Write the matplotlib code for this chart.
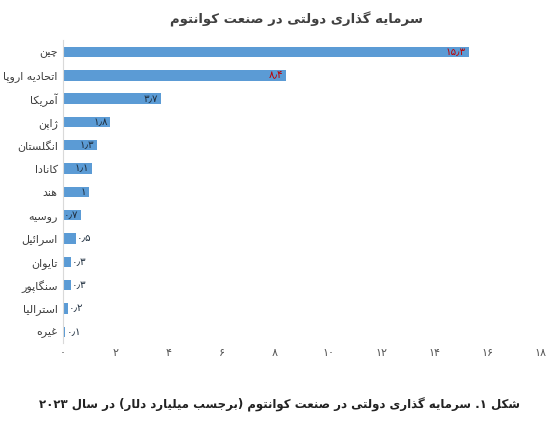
import matplotlib
matplotlib.use("Agg")
import matplotlib.pyplot as plt

categories = ["چین", "اتحادیه اروپا", "آمریکا", "ژاپن", "انگلستان", "کانادا", "هند",
              "روسیه", "اسرائیل", "تایوان", "سنگاپور", "استرالیا", "غیره"]
values = [15.3, 8.4, 3.7, 1.8, 1.3, 1.1, 1.0, 0.7, 0.5, 0.3, 0.3, 0.2, 0.1]
ticks = [0, 2, 4, 6, 8, 10, 12, 14, 16, 18]
title = "سرمایه گذاری دولتی در صنعت کوانتوم"
caption = "شکل ۱. سرمایه گذاری دولتی در صنعت کوانتوم (برجسب میلیارد دلار) در سال ۲۰۲۳"

# presentation forms: isolated, final, initial, medial (None => non-joining to next)
F = {
 'ا': (0xFE8D, 0xFE8E, None, None), 'آ': (0xFE81, 0xFE82, None, None),
 'ب': (0xFE8F, 0xFE90, 0xFE91, 0xFE92), 'پ': (0xFB56, 0xFB57, 0xFB58, 0xFB59),
 'ت': (0xFE95, 0xFE96, 0xFE97, 0xFE98), 'ج': (0xFE9D, 0xFE9E, 0xFE9F, 0xFEA0),
 'چ': (0xFB7A, 0xFB7B, 0xFB7C, 0xFB7D), 'ح': (0xFEA1, 0xFEA2, 0xFEA3, 0xFEA4),
 'د': (0xFEA9, 0xFEAA, None, None), 'ذ': (0xFEAB, 0xFEAC, None, None),
 'ر': (0xFEAD, 0xFEAE, None, None), 'ز': (0xFEAF, 0xFEB0, None, None),
 'ژ': (0xFB8A, 0xFB8B, None, None), 'س': (0xFEB1, 0xFEB2, 0xFEB3, 0xFEB4),
 'ش': (0xFEB5, 0xFEB6, 0xFEB7, 0xFEB8), 'ص': (0xFEB9, 0xFEBA, 0xFEBB, 0xFEBC),
 'ع': (0xFEC9, 0xFECA, 0xFECB, 0xFECC), 'غ': (0xFECD, 0xFECE, 0xFECF, 0xFED0),
 'ف': (0xFED1, 0xFED2, 0xFED3, 0xFED4), 'ق': (0xFED5, 0xFED6, 0xFED7, 0xFED8),
 'ک': (0xFB8E, 0xFB8F, 0xFB90, 0xFB91), 'گ': (0xFB92, 0xFB93, 0xFB94, 0xFB95),
 'ل': (0xFEDD, 0xFEDE, 0xFEDF, 0xFEE0), 'م': (0xFEE1, 0xFEE2, 0xFEE3, 0xFEE4),
 'ن': (0xFEE5, 0xFEE6, 0xFEE7, 0xFEE8), 'و': (0xFEED, 0xFEEE, None, None),
 'ه': (0xFEE9, 0xFEEA, 0xFEEB, 0xFEEC), 'ی': (0xFBFC, 0xFBFD, 0xFBFE, 0xFBFF),
 'ئ': (0xFE89, 0xFE8A, 0xFE8B, 0xFE8C),
}

def shape(s):
    out = []
    for i, c in enumerate(s):
        if c not in F:
            out.append(c); continue
        prev = s[i-1] if i > 0 else ''
        nxt = s[i+1] if i+1 < len(s) else ''
        jp = prev in F and F[prev][2] is not None
        jn = nxt in F and F[c][2] is not None
        iso, fin, ini, med = F[c]
        if jp and jn: out.append(chr(med))
        elif jp: out.append(chr(fin))
        elif jn: out.append(chr(ini))
        else: out.append(chr(iso))
    return ''.join(out)

def rtl(s):
    s = shape(s)
    tokens, cur = [], ''
    for c in s:
        if '\u06F0' <= c <= '\u06F9' or c.isdigit():
            cur += c
        else:
            if cur: tokens.append(cur); cur = ''
            tokens.append({'(': ')', ')': '('}.get(c, c))
    if cur: tokens.append(cur)
    return ''.join(reversed(tokens))

def fa(v):
    s = ('%g' % v).replace('.', '٫')
    return ''.join(chr(0x06F0 + int(ch)) if ch.isdigit() else ch for ch in s)

plt.rcParams['font.family'] = ['DejaVu Sans']
fig = plt.figure(figsize=(5.59, 4.24), dpi=100)
ax = fig.add_axes([0.112, 0.19, 0.855, 0.715])
y = list(range(len(categories)))
ax.barh(y, values, height=0.45, color='#5B9BD5')
ax.set_ylim(len(categories) - 0.5, -0.5)
ax.set_xlim(0, 18)
ax.set_xticks(ticks)
ax.set_xticklabels([fa(t) for t in ticks], fontsize=8, color='#555555')
ax.set_yticks(y)
ax.set_yticklabels([rtl(c) for c in categories], fontsize=8, color='#404040')
ax.tick_params(length=0)
for s in ['top', 'right', 'bottom']:
    ax.spines[s].set_visible(False)
ax.spines['left'].set_color('#d9d9d9')
for i, v in enumerate(values):
    col = '#C00000' if i < 2 else '#203040'
    ax.text(v - 0.1 if v > 0.5 else v + 0.05, i, fa(v), ha='right' if v > 0.5 else 'left',
            va='center', fontsize=7.5, color=col)
fig.text(0.53, 0.955, rtl(title), ha='center', va='center', fontsize=9.5, color='#404040', weight='bold')
fig.text(0.5, 0.045, rtl(caption), ha='center', va='center', fontsize=8.5, weight='bold', color='#222222')
fig.savefig('out.png', dpi=100)
